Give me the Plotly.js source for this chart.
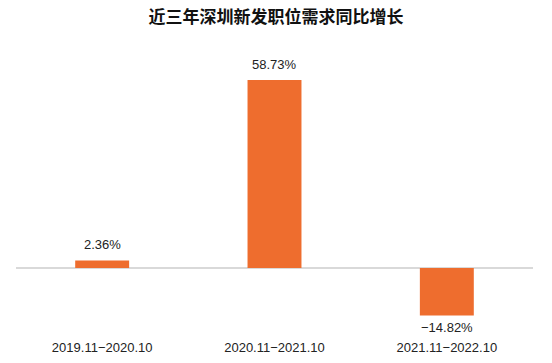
<!DOCTYPE html>
<html>
<head>
<meta charset="utf-8">
<script src="https://cdn.plot.ly/plotly-3.0.1.min.js"></script>
<style>html,body{margin:0;padding:0;background:#fff;}#chart{width:552px;height:363px;}</style>
</head>
<body>
<div id="chart"></div>
<script>
const categories = ["2019.11−2020.10", "2020.11−2021.10", "2021.11−2022.10"];
const values = [2.36, 58.73, -14.82];
const labels = ["2.36%", "58.73%", "−14.82%"];

const barColor = "#EE6D2E";
const fontFamily = "Liberation Sans, Arial, sans-serif";

const trace = {
  type: "bar",
  x: categories,
  y: values,
  marker: {color: barColor},
  hoverinfo: "none"
};

const annotations = categories.map((c, i) => ({
  x: c,
  y: values[i],
  xref: "x",
  yref: "y",
  text: labels[i],
  showarrow: false,
  yanchor: "middle",
  yshift: values[i] >= 0 ? 16 : -12,
  font: {family: fontFamily, size: 13, color: "#222"}
}));

const layout = {
  width: 552,
  height: 363,
  margin: {l: 16, r: 19, t: 60, b: 31},
  paper_bgcolor: "#fff",
  plot_bgcolor: "#fff",
  bargap: 0.687,
  showlegend: false,
  title: {
    text: "<b>近三年深圳新发职位需求同比增长</b>",
    x: 0.5,
    xref: "container",
    y: 1 - 17/363,
    yref: "container",
    yanchor: "middle",
    font: {family: "Noto Sans CJK SC, sans-serif", size: 17, color: "#111"}
  },
  xaxis: {
    showgrid: false,
    showline: false,
    zeroline: false,
    ticks: "",
    ticklabelstandoff: 6,
    tickfont: {family: fontFamily, size: 13, color: "#222"},
    fixedrange: true
  },
  yaxis: {
    range: [-20, 65],
    showgrid: false,
    showticklabels: false,
    zeroline: true,
    zerolinecolor: "#d9d9d9",
    zerolinewidth: 2,
    fixedrange: true
  },
  annotations: annotations
};

Plotly.newPlot("chart", [trace], layout, {displayModeBar: false, staticPlot: true});
</script>
</body>
</html>
